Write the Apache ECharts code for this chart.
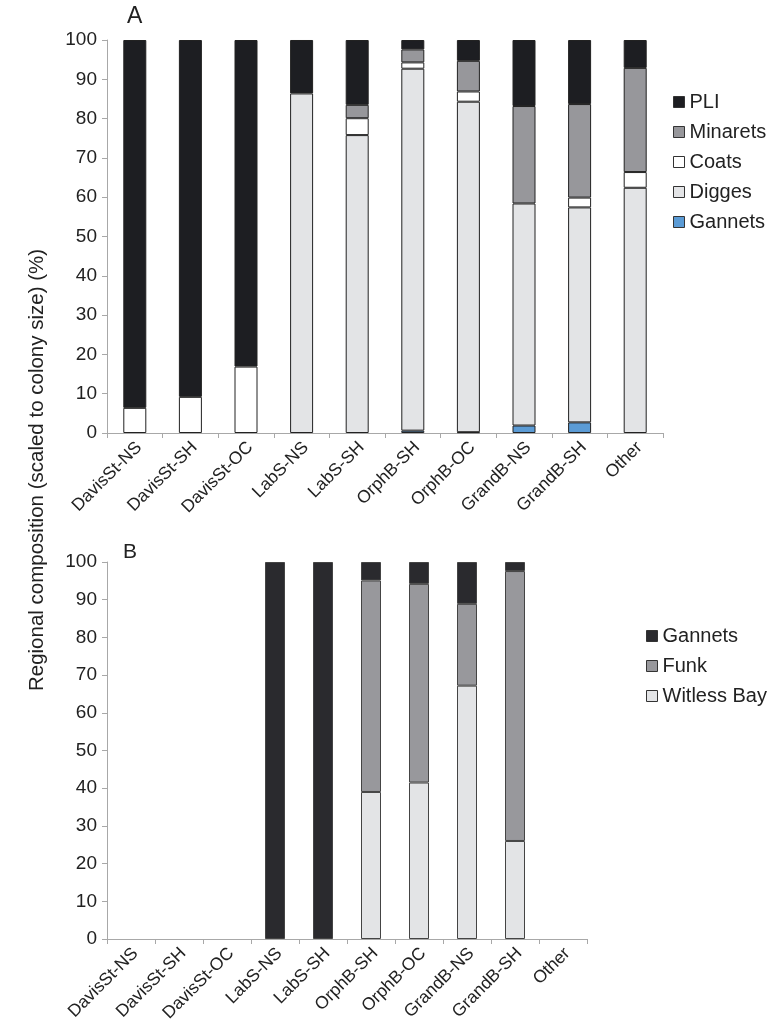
<!DOCTYPE html>
<html><head><meta charset="utf-8">
<script src="https://cdn.jsdelivr.net/npm/echarts@6/dist/echarts.min.js"></script>
<style>html,body{margin:0;padding:0;background:#fff}#c{width:767px;height:1025px}</style>
</head><body><div id="c"></div>
<script>
const categories = ['DavisSt-NS','DavisSt-SH','DavisSt-OC','LabS-NS','LabS-SH','OrphB-SH','OrphB-OC','GrandB-NS','GrandB-SH','Other'];
const yTicks = [0,10,20,30,40,50,60,70,80,90,100];
// Panel A (null = segment absent)
const aGannets  = [null, null, null, null, null, 0.6, 0.2, 1.9, 2.7, null];
const aDigges   = [null, null, null, 86.4, 75.8, 92.1, 84.1, 56.5, 54.7, 62.4];
const aCoats    = [6.4, 9.2, 16.9, null, 4.3, 1.6, 2.6, null, 2.5, 4.0];
const aMinarets = [null, null, null, null, 3.4, 3.3, 7.8, 24.8, 23.8, 26.5];
const aPLI      = [93.6, 90.8, 83.1, 13.6, 16.5, 2.4, 5.3, 16.8, 16.3, 7.1];
// Panel B
const bWitless  = [null, null, null, null, null, 39.0, 41.5, 67.2, 26.0, null];
const bFunk     = [null, null, null, null, null, 56.1, 52.7, 21.7, 71.6, null];
const bGannets  = [null, null, null, 100, 100, 4.9, 5.8, 11.1, 2.4, null];

const font = 'Liberation Sans, Arial, Helvetica, sans-serif';
function bar(name, data, color, idx, border, bw){
  return {name, type:'bar', stack:'s'+idx, data, xAxisIndex:idx, yAxisIndex:idx, barWidth:bw,
    itemStyle:{color, borderColor:border, borderWidth:1}, emphasis:{disabled:true}};
}
const axX = (gi) => ({type:'category', gridIndex:gi, data:categories,
  axisLine:{lineStyle:{color:'#a8a8a8'}}, axisTick:{show:true, lineStyle:{color:'#a8a8a8'}, length:5},
  axisLabel:{rotate:45, color:'#222', fontSize:17.5, fontFamily:font, interval:0, margin:16, padding:[0,-6,0,0]}});
const axY = (gi) => ({type:'value', gridIndex:gi, min:0, max:100, interval:10,
  splitLine:{show:false}, axisLine:{show:true, lineStyle:{color:'#a8a8a8'}},
  axisTick:{show:true, length:5, lineStyle:{color:'#a8a8a8'}},
  axisLabel:{color:'#222', fontSize:19, fontFamily:font, margin:10,
    formatter:v=>yTicks.includes(v)?String(v):''}});

const legendCommon = {orient:'vertical', itemWidth:11, itemHeight:11, itemGap:10, icon:'rect',
  textStyle:{fontSize:20, color:'#222', fontFamily:font}, selectedMode:false,
  itemStyle:{borderColor:'#333', borderWidth:1}};

const chart = echarts.init(document.getElementById('c'), null, {renderer:'canvas'});
chart.setOption({
  animation:false,
  textStyle:{fontFamily:font},
  grid:[{left:107, right:104, top:40, bottom:592}, {left:107, right:180, top:562, bottom:86}],
  xAxis:[axX(0), axX(1)],
  yAxis:[axY(0), axY(1)],
  legend:[
    Object.assign({data:['PLI','Minarets','Coats','Digges','Gannets'], left:668, top:87}, legendCommon),
    Object.assign({data:['Gannets ','Funk','Witless Bay'], left:641, top:621,
      formatter:n=>n.trim()}, legendCommon)
  ],
  graphic:[
    {type:'text', left:127, top:5, style:{text:'A', fontSize:23, fill:'#222', fontFamily:font}},
    {type:'text', left:123, top:542, style:{text:'B', fontSize:21, fill:'#222', fontFamily:font}},
    {type:'text', x:37, y:470, rotation:Math.PI/2,
     style:{text:'Regional composition (scaled to colony size) (%)', fontSize:20.5, fill:'#222', fontFamily:font, align:'center', verticalAlign:'middle'}}
  ],
  series:[
    bar('Gannets', aGannets, '#5b9bd5', 0, '#222', 23),
    bar('Digges', aDigges, '#e3e4e6', 0, '#222', 23),
    bar('Coats', aCoats, '#ffffff', 0, '#222', 23),
    bar('Minarets', aMinarets, '#97979b', 0, '#222', 23),
    bar('PLI', aPLI, '#1d1e22', 0, '#222', 23),
    bar('Witless Bay', bWitless, '#e3e4e6', 1, '#444', 20),
    bar('Funk', bFunk, '#98989c', 1, '#444', 20),
    bar('Gannets ', bGannets, '#2a2a2e', 1, '#444', 20)
  ]
});
</script></body></html>
